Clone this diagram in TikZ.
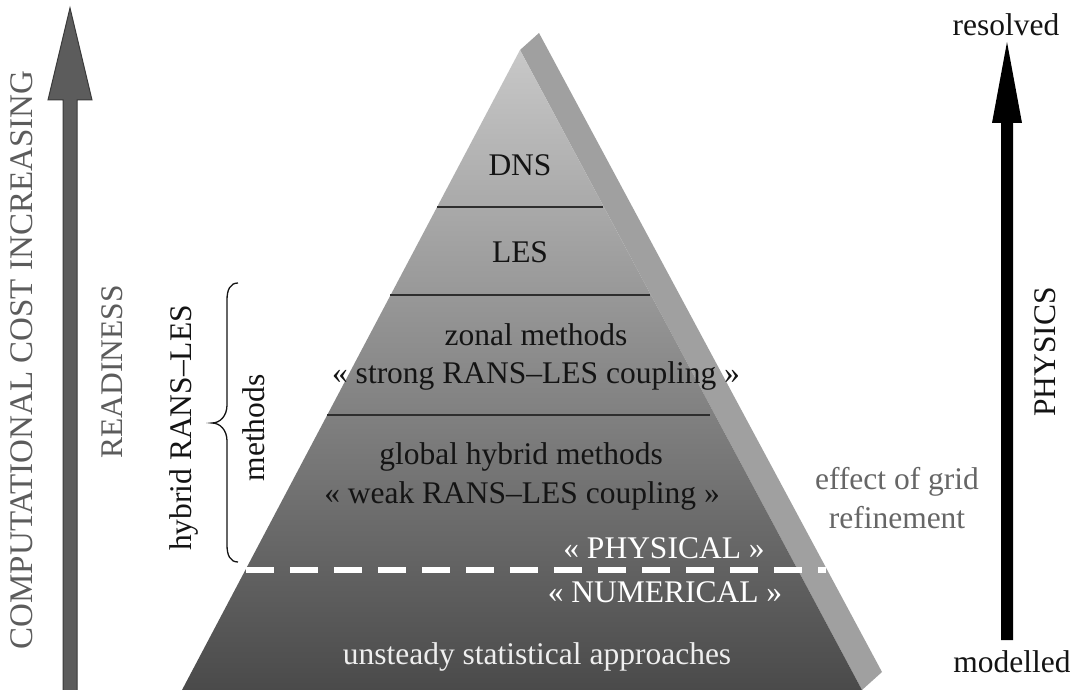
\documentclass[tikz,border=0pt]{standalone}
\usepackage{fontspec}
\setmainfont{Liberation Serif}
\definecolor{faceTop}{HTML}{C8C8C8}
\definecolor{faceMid}{HTML}{A0A0A0}
\definecolor{faceBot}{HTML}{4A4A4A}
\definecolor{sideFace}{HTML}{A0A0A0}
\definecolor{arrowGray}{HTML}{5C5C5C}
\definecolor{arrowEdge}{HTML}{3A3A3A}
\definecolor{sepLine}{HTML}{2E2E2E}
\definecolor{inkDark}{HTML}{141414}
\definecolor{inkGray}{HTML}{666666}
\definecolor{inkLight}{HTML}{EEEEEE}
\begin{document}
\begin{tikzpicture}[x=1pt,y=-1pt,
  lbl/.style={font=\fontsize{31.5}{36}\selectfont, inner sep=0pt, text=inkDark},
  lblw/.style={lbl, text=white},
  sepline/.style={draw=sepLine, line width=1.5pt},
  dashline/.style={draw=white, line width=6pt, dash pattern=on 28pt off 16pt}]
\useasboundingbox (0,0) rectangle (1070,690);
\fill[white] (0,0) rectangle (1070,690);
% left arrow
\filldraw[fill=arrowGray, draw=arrowEdge, line width=1pt]
  (63,690) -- (63,100) -- (48,100) -- (70,8) -- (92,100) -- (77,100) -- (77,690);
% right arrow
\fill[black] (1001,640) -- (1001,123) -- (992,123) -- (1007,42) -- (1022,123) -- (1013,123) -- (1013,640) -- cycle;
% pyramid side face
\fill[sideFace] (520,50) -- (539,33) -- (882,672) -- (862,690) -- cycle;
% pyramid front face
\shade[top color=faceTop, middle color=faceMid, bottom color=faceBot]
  (520,50) -- (182,690) -- (862,690) -- cycle;
% separators
\coordinate (s1l) at (437,207); \coordinate (s1r) at (603,207);
\coordinate (s2l) at (390,295); \coordinate (s2r) at (650,295);
\coordinate (s3l) at (327,415); \coordinate (s3r) at (710,415);
\draw[sepline] (s1l) -- (s1r);
\draw[sepline] (s2l) -- (s2r);
\draw[sepline] (s3l) -- (s3r);
\coordinate (dl) at (246,570); \coordinate (dr) at (826,570);
\draw[dashline] (dl) -- (dr);
% pyramid texts
\node[lbl] (dns) at (520,165) {DNS};
\node[lbl] (les) at (520,252) {LES};
\node[lbl] (zonal) at (536,335) {zonal methods};
\node[lbl] (strong) at (536,376) {« strong RANS–LES coupling »};
\node[lbl] (global) at (521,457) {global hybrid methods};
\node[lbl] (weak) at (522,496) {« weak RANS–LES coupling »};
\node[lblw] (phys) at (664,548) {« PHYSICAL »};
\node[lblw] (num) at (665,592) {« NUMERICAL »};
\node[lbl, text=inkLight] (unst) at (537,657) {unsteady statistical approaches};
% left labels
\node[lbl, text=arrowGray, rotate=90, font=\fontsize{33}{38}\selectfont] (cost) at (22,360) {COMPUTATIONAL COST INCREASING};
\node[lbl, text=arrowGray, rotate=90] (ready) at (112,372) {READINESS};
\node[lbl, rotate=90] (hybrid) at (184,428) {hybrid RANS–LES};
\node[lbl, rotate=90] (methods) at (254,428) {methods};
% brace
\coordinate (bt) at (238,283);
\coordinate (bb) at (238,562);
\coordinate (btip) at (212,423);
\draw[inkDark, line width=1.3pt]
  (bt) .. controls (230,283) and (227,290) .. (227,300)
  -- (227,405) .. controls (227,416) and (220,423) .. (btip)
  .. controls (220,423) and (227,430) .. (227,441)
  -- (227,545) .. controls (227,555) and (230,562) .. (bb);
% right labels
\node[lbl, text=inkGray] (eff1) at (897,482) {effect of grid};
\node[lbl, text=inkGray] (eff2) at (897,518) {refinement};
\node[lbl] (res) at (1006,25) {resolved};
\node[lbl] (mod) at (1012,662) {modelled};
\node[lbl, rotate=90] (physics) at (1045,352) {PHYSICS};
\end{tikzpicture}
\end{document}
